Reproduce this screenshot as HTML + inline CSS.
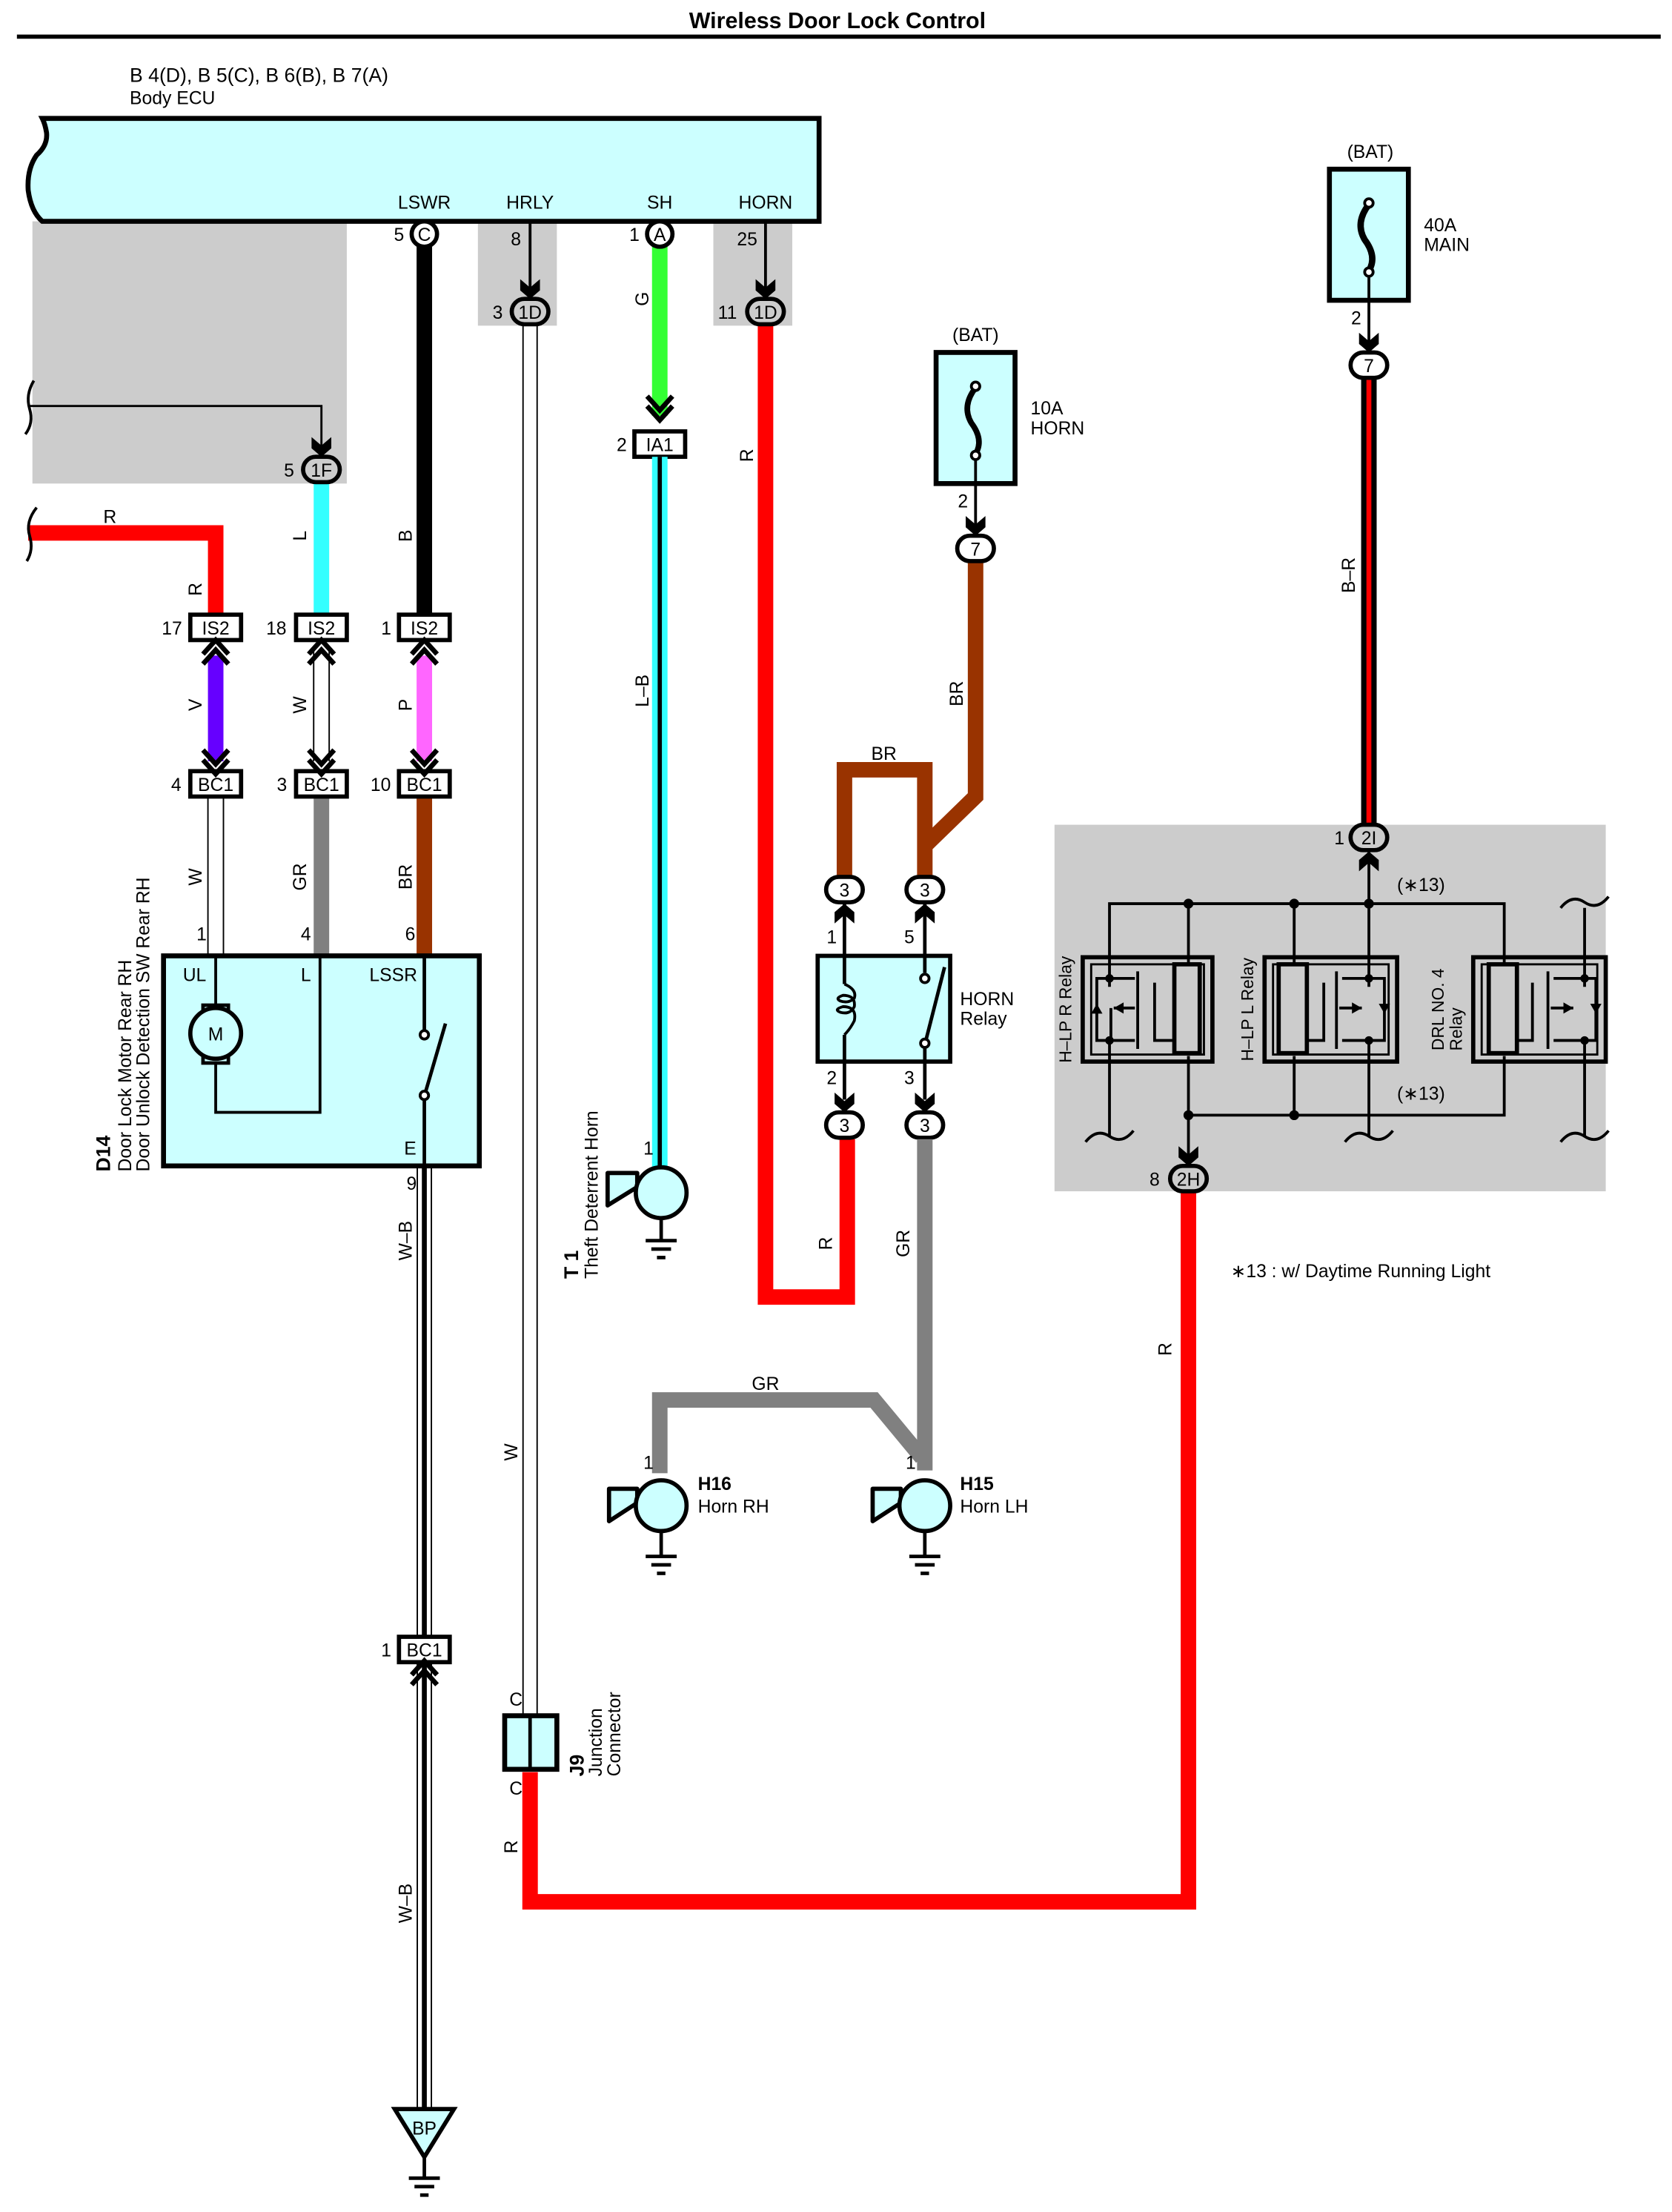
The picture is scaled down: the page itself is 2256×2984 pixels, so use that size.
<!DOCTYPE html>
<html><head><meta charset="utf-8"><style>
html,body{margin:0;padding:0;background:#fff}
svg{display:block}
text{font-family:"Liberation Sans",sans-serif;font-size:13px;fill:#000}
</style></head><body>
<svg width="2256" height="2984" viewBox="0 0 1186 1569" preserveAspectRatio="none" xmlns="http://www.w3.org/2000/svg">
<defs>
<path id="ad" d="M-7,-14 L0,-8 L7,-14 L7,-6 L0,0 L-7,-6 Z" fill="#000"/>
<path id="au" d="M-7,14 L0,8 L7,14 L7,6 L0,0 L-7,6 Z" fill="#000"/>
<g id="chu" fill="none" stroke="#000" stroke-width="3.5"><polyline points="-9,18 0,8 9,18"/><polyline points="-9,25 0,15 9,25"/></g>
<g id="chd" fill="none" stroke="#000" stroke-width="3.5"><polyline points="-9,-18 0,-8 9,-18"/><polyline points="-9,-25 0,-15 9,-25"/></g>
<g id="gnd" stroke="#000" stroke-width="2.5"><line x1="-11" y1="0" x2="11" y2="0"/><line x1="-7" y1="6" x2="7" y2="6"/><line x1="-3" y1="12" x2="3" y2="12"/></g>
</defs>
<rect width="1186" height="1569" fill="#fff"/>
<!-- title -->
<text x="594" y="20" text-anchor="middle" font-weight="bold" style="font-size:16px">Wireless Door Lock Control</text>
<line x1="12" y1="26" x2="1178" y2="26" stroke="#000" stroke-width="3"/>
<text x="92" y="58" style="font-size:14px">B 4(D), B 5(C), B 6(B), B 7(A)</text>
<text x="92" y="74">Body ECU</text>

<!-- gray areas -->
<rect x="23" y="157" width="223" height="186" fill="#cccccc"/>
<rect x="339" y="157" width="56" height="74" fill="#cccccc"/>
<rect x="506" y="157" width="56" height="74" fill="#cccccc"/>
<rect x="748" y="585" width="391" height="260" fill="#cccccc"/>

<!-- ECU box -->
<path d="M30,84 L581,84 L581,157 L30,157 Q22,150 20,135 Q19,120 26,110 Q34,103 33,94 Q32,88 30,84 Z" fill="#ccffff" stroke="#000" stroke-width="3.5"/>
<text x="301" y="148" text-anchor="middle">LSWR</text>
<text x="376" y="148" text-anchor="middle">HRLY</text>
<text x="468" y="148" text-anchor="middle">SH</text>
<text x="543" y="148" text-anchor="middle">HORN</text>

<!-- LSWR chain -->
<line x1="301" y1="175" x2="301" y2="437" stroke="#000" stroke-width="11"/>
<circle cx="301" cy="166" r="9" fill="#fff" stroke="#000" stroke-width="3"/>
<text x="301" y="171" text-anchor="middle">C</text><text x="283" y="171" text-anchor="middle">5</text>
<line x1="301" y1="465" x2="301" y2="540" stroke="#ff66ff" stroke-width="11"/>
<line x1="301" y1="565" x2="301" y2="679" stroke="#993300" stroke-width="11"/>
<text transform="rotate(-90 292 380)" x="292" y="380" text-anchor="middle">B</text>
<text transform="rotate(-90 292 500)" x="292" y="500" text-anchor="middle">P</text>
<text transform="rotate(-90 292 622)" x="292" y="622" text-anchor="middle">BR</text>

<!-- 1F wire -->
<path d="M20,288 L228,288 L228,318" fill="none" stroke="#000" stroke-width="1.5"/>
<path d="M24,270 Q18,280 21,290 Q24,300 18,308" fill="none" stroke="#000" stroke-width="2"/>
<use href="#ad" x="228" y="324"/>
<line x1="228" y1="343" x2="228" y2="437" stroke="#33ffff" stroke-width="11"/>
<rect x="215" y="324" width="26" height="18" rx="9" fill="#cccccc" stroke="#000" stroke-width="3"/>
<text x="228" y="338" text-anchor="middle">1F</text><text x="205" y="338" text-anchor="middle">5</text>
<line x1="222.5" y1="462" x2="222.5" y2="540" stroke="#000" stroke-width="1"/>
<line x1="233.5" y1="462" x2="233.5" y2="540" stroke="#000" stroke-width="1"/>
<line x1="228" y1="565" x2="228" y2="679" stroke="#808080" stroke-width="11"/>
<text transform="rotate(-90 217 380)" x="217" y="380" text-anchor="middle">L</text>
<text transform="rotate(-90 217 500)" x="217" y="500" text-anchor="middle">W</text>
<text transform="rotate(-90 217 622)" x="217" y="622" text-anchor="middle">GR</text>

<!-- R wire left -->
<path d="M20,378 L153,378 L153,437" fill="none" stroke="#ff0000" stroke-width="11"/>
<path d="M26,360 Q18,370 21,380 Q24,390 19,398" fill="none" stroke="#000" stroke-width="2"/>
<text x="78" y="371" text-anchor="middle">R</text>
<text transform="rotate(-90 143 418)" x="143" y="418" text-anchor="middle">R</text>
<line x1="153" y1="465" x2="153" y2="540" stroke="#6600ff" stroke-width="11"/>
<text transform="rotate(-90 143 500)" x="143" y="500" text-anchor="middle">V</text>
<line x1="147.5" y1="565" x2="147.5" y2="679" stroke="#000" stroke-width="1"/>
<line x1="158.5" y1="565" x2="158.5" y2="679" stroke="#000" stroke-width="1"/>
<text transform="rotate(-90 143 622)" x="143" y="622" text-anchor="middle">W</text>

<!-- IS2 / BC1 connectors -->
<g stroke="#000" stroke-width="3" fill="#fff">
<rect x="135" y="436" width="36" height="18"/><rect x="210" y="436" width="36" height="18"/><rect x="283" y="436" width="36" height="18"/>
<rect x="135" y="547" width="36" height="18"/><rect x="210" y="547" width="36" height="18"/><rect x="283" y="547" width="36" height="18"/>
<rect x="283" y="1161" width="36" height="18"/>
</g>
<use href="#chu" x="153" y="446"/><use href="#chu" x="228" y="446"/><use href="#chu" x="301" y="446"/>
<use href="#chd" x="153" y="557"/><use href="#chd" x="228" y="557"/><use href="#chd" x="301" y="557"/>
<use href="#chu" x="301" y="1170"/>
<text x="153" y="450" text-anchor="middle">IS2</text><text x="228" y="450" text-anchor="middle">IS2</text><text x="301" y="450" text-anchor="middle">IS2</text>
<text x="122" y="450" text-anchor="middle">17</text><text x="196" y="450" text-anchor="middle">18</text><text x="274" y="450" text-anchor="middle">1</text>
<text x="153" y="561" text-anchor="middle">BC1</text><text x="228" y="561" text-anchor="middle">BC1</text><text x="301" y="561" text-anchor="middle">BC1</text>
<text x="125" y="561" text-anchor="middle">4</text><text x="200" y="561" text-anchor="middle">3</text><text x="270" y="561" text-anchor="middle">10</text>
<text x="301" y="1175" text-anchor="middle">BC1</text><text x="274" y="1175" text-anchor="middle">1</text>

<!-- D14 -->
<rect x="116" y="678" width="224" height="149" fill="#ccffff" stroke="#000" stroke-width="3.5"/>
<text x="143" y="667" text-anchor="middle">1</text><text x="217" y="667" text-anchor="middle">4</text><text x="291" y="667" text-anchor="middle">6</text>
<text x="138" y="696" text-anchor="middle">UL</text><text x="217" y="696" text-anchor="middle">L</text><text x="279" y="696" text-anchor="middle">LSSR</text><text x="291" y="819" text-anchor="middle">E</text>
<path d="M153,678 L153,789 L227,789 L227,678" fill="none" stroke="#000" stroke-width="2"/>
<rect x="144" y="713" width="18" height="8" fill="#ccffff" stroke="#000" stroke-width="2.5"/>
<rect x="144" y="746" width="18" height="8" fill="#ccffff" stroke="#000" stroke-width="2.5"/>
<circle cx="153" cy="733" r="18" fill="#ccffff" stroke="#000" stroke-width="3"/>
<text x="153" y="738" text-anchor="middle">M</text>
<line x1="301" y1="678" x2="301" y2="732" stroke="#000" stroke-width="2.5"/>
<line x1="301" y1="779" x2="301" y2="827" stroke="#000" stroke-width="2.5"/>
<circle cx="301" cy="734" r="3" fill="#fff" stroke="#000" stroke-width="2"/>
<circle cx="301" cy="777" r="3" fill="#fff" stroke="#000" stroke-width="2"/>
<line x1="302" y1="774" x2="316" y2="726" stroke="#000" stroke-width="2.5"/>
<text transform="rotate(-90 78 831)" x="78" y="831" font-weight="bold" style="font-size:14px">D14</text>
<text transform="rotate(-90 93 831)" x="93" y="831">Door Lock Motor Rear RH</text>
<text transform="rotate(-90 106 831)" x="106" y="831">Door Unlock Detection SW Rear RH</text>
<text x="292" y="844" text-anchor="middle">9</text>

<!-- W-B -->
<g stroke="#000"><line x1="296" y1="827" x2="296" y2="1160" stroke-width="1"/><line x1="306" y1="827" x2="306" y2="1160" stroke-width="1"/><line x1="301" y1="827" x2="301" y2="1160" stroke-width="3.5"/>
<line x1="296" y1="1180" x2="296" y2="1496" stroke-width="1"/><line x1="306" y1="1180" x2="306" y2="1496" stroke-width="1"/><line x1="301" y1="1180" x2="301" y2="1496" stroke-width="3.5"/></g>
<text transform="rotate(-90 292 880)" x="292" y="880" text-anchor="middle">W–B</text>
<text transform="rotate(-90 292 1350)" x="292" y="1350" text-anchor="middle">W–B</text>
<polygon points="280,1496 322,1496 301,1530" fill="#ccffff" stroke="#000" stroke-width="3"/>
<text x="301" y="1514" text-anchor="middle">BP</text>
<line x1="301" y1="1530" x2="301" y2="1545" stroke="#000" stroke-width="2.5"/>
<use href="#gnd" x="301" y="1545"/>

<!-- HRLY -->
<text x="366" y="174" text-anchor="middle">8</text>
<line x1="376" y1="157" x2="376" y2="207" stroke="#000" stroke-width="2"/>
<use href="#ad" x="376" y="212"/>
<rect x="363" y="212" width="26" height="18" rx="9" fill="#cccccc" stroke="#000" stroke-width="3"/>
<text x="376" y="226" text-anchor="middle">1D</text><text x="353" y="226" text-anchor="middle">3</text>
<line x1="371" y1="231" x2="371" y2="1217" stroke="#000" stroke-width="1"/>
<line x1="381" y1="231" x2="381" y2="1217" stroke="#000" stroke-width="1"/>
<text transform="rotate(-90 367 1030)" x="367" y="1030" text-anchor="middle">W</text>
<!-- J9 -->
<text x="366" y="1210" text-anchor="middle">C</text>
<rect x="358" y="1217" width="37" height="38" fill="#ccffff" stroke="#000" stroke-width="3.5"/>
<line x1="376" y1="1217" x2="376" y2="1255" stroke="#000" stroke-width="2.5"/>
<text x="366" y="1273" text-anchor="middle">C</text>
<text transform="rotate(-90 414 1260)" x="414" y="1260" font-weight="bold" style="font-size:14px">J9</text>
<text transform="rotate(-90 427 1260)" x="427" y="1260">Junction</text>
<text transform="rotate(-90 440 1260)" x="440" y="1260">Connector</text>
<path d="M376,1257 L376,1349 L843,1349 L843,845" fill="none" stroke="#ff0000" stroke-width="11"/>
<text transform="rotate(-90 367 1310)" x="367" y="1310" text-anchor="middle">R</text>
<text transform="rotate(-90 831 957)" x="831" y="957" text-anchor="middle">R</text>

<!-- SH -->
<line x1="468" y1="175" x2="468" y2="295" stroke="#33ff33" stroke-width="11"/>
<circle cx="468" cy="166" r="9" fill="#fff" stroke="#000" stroke-width="3"/>
<text x="468" y="171" text-anchor="middle">A</text><text x="450" y="171" text-anchor="middle">1</text>
<use href="#chd" x="468" y="306"/>
<rect x="450" y="306" width="36" height="18" fill="#fff" stroke="#000" stroke-width="3"/>
<text x="468" y="320" text-anchor="middle">IA1</text><text x="441" y="320" text-anchor="middle">2</text>
<text transform="rotate(-90 460 212)" x="460" y="212" text-anchor="middle">G</text>
<line x1="468" y1="324" x2="468" y2="828" stroke="#33ffff" stroke-width="11"/>
<line x1="468" y1="324" x2="468" y2="828" stroke="#000" stroke-width="3"/>
<text transform="rotate(-90 460 490)" x="460" y="490" text-anchor="middle">L–B</text>
<text x="460" y="819" text-anchor="middle">1</text>
<!-- T1 horn -->
<polygon points="431,832 452,832 452,842 431,855" fill="#ccffff" stroke="#000" stroke-width="3" stroke-linejoin="round"/>
<circle cx="469" cy="846" r="18" fill="#ccffff" stroke="#000" stroke-width="3"/>
<line x1="469" y1="864" x2="469" y2="880" stroke="#000" stroke-width="2.5"/>
<use href="#gnd" x="469" y="880"/>
<text transform="rotate(-90 410 907)" x="410" y="907" font-weight="bold" style="font-size:14px">T 1</text>
<text transform="rotate(-90 424 907)" x="424" y="907">Theft Deterrent Horn</text>

<!-- HORN -->
<text x="530" y="174" text-anchor="middle">25</text>
<line x1="543" y1="157" x2="543" y2="207" stroke="#000" stroke-width="2"/>
<use href="#ad" x="543" y="212"/>
<path d="M543,230 L543,920 L601,920 L601,808" fill="none" stroke="#ff0000" stroke-width="11"/>
<rect x="530" y="212" width="26" height="18" rx="9" fill="#cccccc" stroke="#000" stroke-width="3"/>
<text x="543" y="226" text-anchor="middle">1D</text><text x="516" y="226" text-anchor="middle">11</text>
<text transform="rotate(-90 534 323)" x="534" y="323" text-anchor="middle">R</text>
<text transform="rotate(-90 590 882)" x="590" y="882" text-anchor="middle">R</text>

<!-- 10A HORN fuse -->
<text x="692" y="242" text-anchor="middle">(BAT)</text>
<rect x="664" y="250" width="56" height="93" fill="#ccffff" stroke="#000" stroke-width="3.5"/>
<path d="M692,275 Q682,288 689,300 Q698,312 692,322" fill="none" stroke="#000" stroke-width="4"/>
<circle cx="692" cy="274" r="3" fill="#fff" stroke="#000" stroke-width="2"/>
<circle cx="692" cy="323" r="3" fill="#fff" stroke="#000" stroke-width="2"/>
<line x1="692" y1="326" x2="692" y2="374" stroke="#000" stroke-width="2"/>
<text x="731" y="294">10A</text><text x="731" y="308">HORN</text>
<text x="683" y="360" text-anchor="middle">2</text>
<use href="#ad" x="692" y="380"/>
<path d="M692,398 L692,565 L656,600 L656,622 M656,600 L656,546 L599,546 L599,622" fill="none" stroke="#993300" stroke-width="11" stroke-linejoin="miter"/>
<rect x="679" y="380" width="26" height="18" rx="9" fill="#fff" stroke="#000" stroke-width="3"/>
<text x="692" y="394" text-anchor="middle">7</text>
<text x="627" y="539" text-anchor="middle">BR</text>
<text transform="rotate(-90 683 492)" x="683" y="492" text-anchor="middle">BR</text>

<!-- Horn relay -->
<g stroke="#000" stroke-width="3" fill="#fff">
<rect x="586" y="622" width="26" height="18" rx="9"/><rect x="643" y="622" width="26" height="18" rx="9"/>
<rect x="586" y="789" width="26" height="18" rx="9"/><rect x="643" y="789" width="26" height="18" rx="9"/>
</g>
<text x="599" y="636" text-anchor="middle">3</text><text x="656" y="636" text-anchor="middle">3</text>
<text x="599" y="803" text-anchor="middle">3</text><text x="656" y="803" text-anchor="middle">3</text>
<line x1="599" y1="640" x2="599" y2="780" stroke="#000" stroke-width="2.5"/>
<line x1="656" y1="640" x2="656" y2="780" stroke="#000" stroke-width="2.5"/>
<use href="#au" x="599" y="641"/><use href="#au" x="656" y="641"/>
<use href="#ad" x="599" y="789"/><use href="#ad" x="656" y="789"/>
<text x="590" y="669" text-anchor="middle">1</text><text x="645" y="669" text-anchor="middle">5</text>
<text x="590" y="769" text-anchor="middle">2</text><text x="645" y="769" text-anchor="middle">3</text>
<rect x="580" y="678" width="94" height="75" fill="#ccffff" stroke="#000" stroke-width="3"/>
<line x1="599" y1="678" x2="599" y2="753" stroke="#000" stroke-width="2.5"/>
<rect x="594" y="698" width="12" height="36" fill="#ccffff" stroke="none"/>
<path d="M599,698 Q608,702 606,708 Q602,712 596,710 Q592,708 598,706 Q607,706 606,714 Q603,720 596,718 Q591,716 598,714 Q608,714 606,724 Q603,730 599,734" fill="none" stroke="#000" stroke-width="2"/>
<line x1="656" y1="678" x2="656" y2="692" stroke="#000" stroke-width="2.5"/>
<rect x="650" y="690" width="12" height="56" fill="#ccffff"/>
<circle cx="656" cy="694" r="3" fill="#fff" stroke="#000" stroke-width="2"/>
<circle cx="656" cy="740" r="3" fill="#fff" stroke="#000" stroke-width="2"/>
<line x1="656" y1="743" x2="656" y2="753" stroke="#000" stroke-width="2.5"/>
<line x1="657" y1="737" x2="670" y2="686" stroke="#000" stroke-width="2.5"/>
<text x="681" y="713">HORN</text><text x="681" y="727">Relay</text>

<!-- GR wires -->
<path d="M656,808 L656,1043" fill="none" stroke="#808080" stroke-width="11"/>
<path d="M468,1045 L468,993 L620,993 L654,1034" fill="none" stroke="#808080" stroke-width="11" stroke-linejoin="miter"/>
<text transform="rotate(-90 645 882)" x="645" y="882" text-anchor="middle">GR</text>
<text x="543" y="986" text-anchor="middle">GR</text>
<text x="460" y="1042" text-anchor="middle">1</text><text x="646" y="1042" text-anchor="middle">1</text>
<!-- H16 -->
<polygon points="432,1056 452,1056 452,1066 432,1079" fill="#ccffff" stroke="#000" stroke-width="3" stroke-linejoin="round"/>
<circle cx="469" cy="1068" r="18" fill="#ccffff" stroke="#000" stroke-width="3"/>
<line x1="469" y1="1086" x2="469" y2="1104" stroke="#000" stroke-width="2.5"/>
<use href="#gnd" x="469" y="1104"/>
<text x="495" y="1057" font-weight="bold">H16</text><text x="495" y="1073">Horn RH</text>
<!-- H15 -->
<polygon points="619,1056 639,1056 639,1066 619,1079" fill="#ccffff" stroke="#000" stroke-width="3" stroke-linejoin="round"/>
<circle cx="656" cy="1068" r="18" fill="#ccffff" stroke="#000" stroke-width="3"/>
<line x1="656" y1="1086" x2="656" y2="1104" stroke="#000" stroke-width="2.5"/>
<use href="#gnd" x="656" y="1104"/>
<text x="681" y="1057" font-weight="bold">H15</text><text x="681" y="1073">Horn LH</text>

<!-- 40A MAIN fuse -->
<text x="972" y="112" text-anchor="middle">(BAT)</text>
<rect x="943" y="120" width="56" height="93" fill="#ccffff" stroke="#000" stroke-width="3.5"/>
<path d="M971,145 Q961,158 968,170 Q977,182 971,192" fill="none" stroke="#000" stroke-width="4.5"/>
<circle cx="971" cy="144" r="3" fill="#fff" stroke="#000" stroke-width="2"/>
<circle cx="971" cy="193" r="3" fill="#fff" stroke="#000" stroke-width="2"/>
<line x1="971" y1="196" x2="971" y2="245" stroke="#000" stroke-width="2"/>
<text x="1010" y="164">40A</text><text x="1010" y="178">MAIN</text>
<text x="962" y="230" text-anchor="middle">2</text>
<use href="#ad" x="971" y="250"/>
<line x1="971" y1="268" x2="971" y2="585" stroke="#000" stroke-width="11"/>
<line x1="971" y1="268" x2="971" y2="585" stroke="#ff0000" stroke-width="3.5"/>
<rect x="958" y="250" width="26" height="18" rx="9" fill="#fff" stroke="#000" stroke-width="3"/>
<text x="971" y="264" text-anchor="middle">7</text>
<text transform="rotate(-90 961 408)" x="961" y="408" text-anchor="middle">B–R</text>

<!-- relay block -->
<rect x="958" y="585" width="26" height="18" rx="9" fill="#cccccc" stroke="#000" stroke-width="3"/>
<text x="971" y="599" text-anchor="middle">2I</text><text x="950" y="599" text-anchor="middle">1</text>
<use href="#au" x="971" y="604"/>
<g stroke="#000" stroke-width="2" fill="none">
<path d="M787,700 L787,641 L1067,641 L1067,678"/>
<line x1="971" y1="604" x2="971" y2="700"/>
<line x1="843" y1="641" x2="843" y2="684"/>
<line x1="918" y1="641" x2="918" y2="684"/>
<line x1="1124" y1="644" x2="1124" y2="700"/>
<path d="M843,749 L843,826"/>
<path d="M787,738 L787,806"/>
<path d="M971,738 L971,806"/>
<path d="M1124,738 L1124,806"/>
<path d="M918,749 L918,791 M843,791 L1067,791 L1067,749"/>
<line x1="1067" y1="678" x2="1067" y2="684"/>
</g>
<g fill="#000"><circle cx="843" cy="641" r="3.5"/><circle cx="918" cy="641" r="3.5"/><circle cx="971" cy="641" r="3.5"/><circle cx="843" cy="791" r="3.5"/><circle cx="918" cy="791" r="3.5"/></g>
<text x="1008" y="632" text-anchor="middle">(∗13)</text>
<text x="1008" y="780" text-anchor="middle">(∗13)</text>
<g fill="none" stroke="#000" stroke-width="2">
<path d="M770,810 Q778,800 787,806 Q796,812 804,802"/>
<path d="M954,810 Q962,800 971,806 Q980,812 988,802"/>
<path d="M1107,810 Q1115,800 1124,806 Q1133,812 1141,802"/>
<path d="M1107,644 Q1115,634 1124,640 Q1133,646 1141,636"/>
</g>
<!-- relay boxes -->
<g stroke="#000" fill="none">
<rect x="768" y="679" width="92" height="74" stroke-width="3"/>
<rect x="774" y="684" width="80" height="64" stroke-width="1.5"/>
<rect x="897" y="679" width="94" height="74" stroke-width="3"/>
<rect x="903" y="684" width="82" height="64" stroke-width="1.5"/>
<rect x="1045" y="679" width="94" height="74" stroke-width="3"/>
<rect x="1051" y="684" width="82" height="64" stroke-width="1.5"/>
<rect x="833" y="684" width="18" height="63" stroke-width="3"/>
<rect x="907" y="684" width="20" height="63" stroke-width="3"/>
<rect x="1056" y="684" width="20" height="63" stroke-width="3"/>
</g>
<g stroke="#000" stroke-width="2" fill="none">
<path d="M787,694 L778,694 L778,738 L787,738 M787,694 L805,694 M787,738 L805,738 M788,715 L788,738 M790,715 L805,715"/>
<line x1="807" y1="689" x2="807" y2="744"/>
<path d="M819,697 L819,738 L833,738"/>
<path d="M939,697 L939,738 L927,738" />
<path d="M974,694 L982,694 L982,738 L974,738 M974,694 L952,694 M974,738 L952,738 M950,715 L966,715"/>
<line x1="948" y1="689" x2="948" y2="744"/>
<path d="M1124,694 L1132,694 L1132,738 L1124,738 M1124,694 L1102,694 M1124,738 L1102,738 M1100,715 L1116,715"/>
<line x1="1098" y1="689" x2="1098" y2="744"/>
<path d="M1087,697 L1087,738 L1076,738"/>
</g>
<g fill="#000">
<polygon points="774,719 782,719 778,712"/><polygon points="978,712 986,712 982,719"/><polygon points="1128,712 1136,712 1132,719"/>
<polygon points="790,715 797,711 797,719"/><polygon points="966,715 959,711 959,719"/><polygon points="1116,715 1109,711 1109,719"/>
<circle cx="787" cy="694" r="3"/><circle cx="787" cy="738" r="3"/><circle cx="971" cy="694" r="3"/><circle cx="971" cy="738" r="3"/><circle cx="1124" cy="694" r="3"/><circle cx="1124" cy="738" r="3"/>
</g>
<text transform="rotate(-90 760 716)" x="760" y="716" text-anchor="middle" style="font-size:12px">H–LP R Relay</text>
<text transform="rotate(-90 889 716)" x="889" y="716" text-anchor="middle" style="font-size:12px">H–LP L Relay</text>
<text transform="rotate(-90 1024 716)" x="1024" y="716" text-anchor="middle" style="font-size:12px">DRL NO. 4</text>
<text transform="rotate(-90 1037 730)" x="1037" y="730" text-anchor="middle" style="font-size:12px">Relay</text>
<use href="#ad" x="843" y="827"/>
<rect x="830" y="827" width="26" height="18" rx="9" fill="#cccccc" stroke="#000" stroke-width="3"/>
<text x="843" y="841" text-anchor="middle">2H</text><text x="819" y="841" text-anchor="middle">8</text>
<text x="873" y="906">∗13 : w/ Daytime Running Light</text>
</svg>
</body></html>
